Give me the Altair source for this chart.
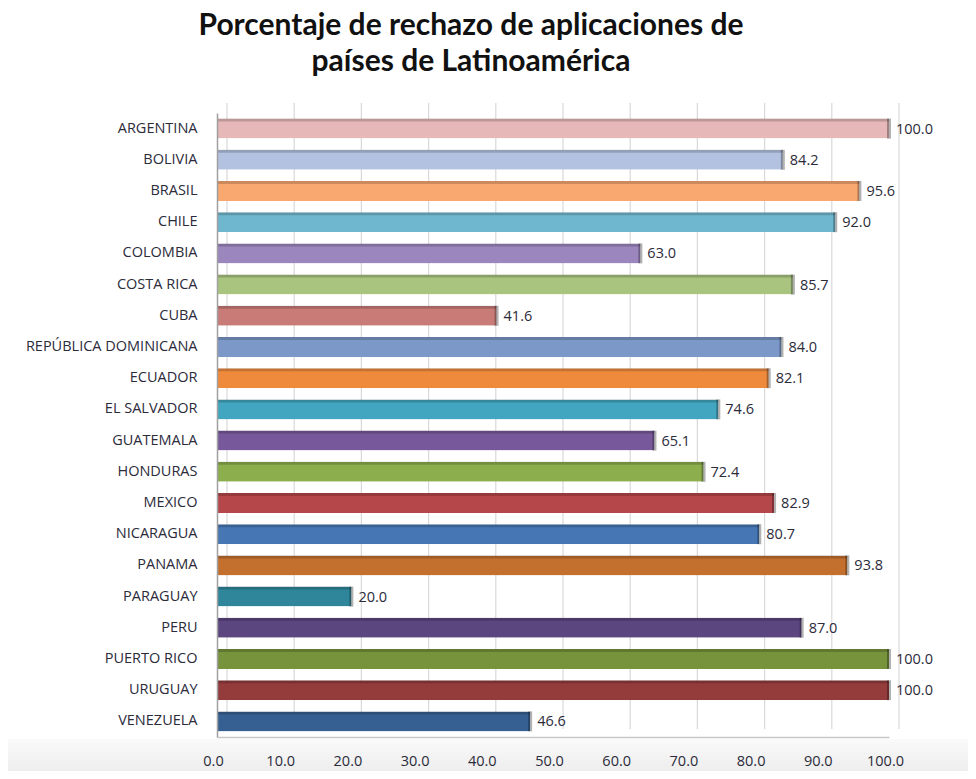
import altair as alt
import pandas as pd

countries = ["ARGENTINA", "BOLIVIA", "BRASIL", "CHILE", "COLOMBIA", "COSTA RICA", "CUBA",
             "REPÚBLICA DOMINICANA", "ECUADOR", "EL SALVADOR", "GUATEMALA", "HONDURAS",
             "MEXICO", "NICARAGUA", "PANAMA", "PARAGUAY", "PERU", "PUERTO RICO",
             "URUGUAY", "VENEZUELA"]
values = [100.0, 84.2, 95.6, 92.0, 63.0, 85.7, 41.6, 84.0, 82.1, 74.6, 65.1, 72.4,
          82.9, 80.7, 93.8, 20.0, 87.0, 100.0, 100.0, 46.6]
colors = ["#e6b9b8", "#b3c2e0", "#f9a870", "#6fb7cf", "#9b86bd", "#a9c47f", "#c97b77",
          "#7b98c9", "#ef8a3c", "#42a6c0", "#77589a", "#8cae4c", "#b5474a", "#4677b4",
          "#c3702f", "#2f8599", "#5c4680", "#77933c", "#943b3b", "#366092"]
x_ticks = [0, 10, 20, 30, 40, 50, 60, 70, 80, 90, 100]

df = pd.DataFrame({"pais": countries, "valor": values, "color": colors})
grid_df = pd.DataFrame({"t": x_ticks})

FONT = "Open Sans"
TXT = "#2b2b3a"
W, H = 672, 624

y_enc = alt.Y("pais:N", sort=countries,
              scale=alt.Scale(paddingInner=0.36, paddingOuter=0.18),
              axis=alt.Axis(title=None, labelFont=FONT, labelFontSize=14.5, labelColor=TXT,
                            labelPadding=20, ticks=False, domain=True, domainColor="#a0a0a0",
                            domainWidth=1.5, grid=False, zindex=1))
x_enc = alt.X("valor:Q", scale=alt.Scale(domain=[0, 100], nice=False),
              axis=alt.Axis(title=None, values=x_ticks, format=".1f", labelFont=FONT,
                            labelFontSize=14.5, labelColor=TXT, labelPadding=17, ticks=False,
                            labelFlush=False, labelOffset=-4, zindex=1,
                            domain=True, domainColor="#c8c8c8", domainWidth=1.5, grid=False))

band_fill = alt.Gradient(gradient="linear",
                         stops=[alt.GradientStop(color="#fafafa", offset=0),
                                alt.GradientStop(color="#ebebeb", offset=1)],
                         x1=0, x2=0, y1=0, y2=1)
bg_band = alt.Chart(grid_df).mark_rect(color=band_fill, clip=False).encode(
    x=alt.value(-209), x2=alt.value(W + 79), y=alt.value(H + 2), y2=alt.value(H + 40)
)
grid = alt.Chart(grid_df).mark_rule(color="#d9d9d9", strokeWidth=1.2, xOffset=10).encode(
    x=alt.X("t:Q", scale=alt.Scale(domain=[0, 100], nice=False)),
    y=alt.value(-10), y2=alt.value(H - 8)
)

base = alt.Chart(df)
bars = base.mark_bar(cornerRadius=1).encode(
    y=y_enc, x=x_enc, color=alt.Color("color:N", scale=None)
)
top_strip = base.mark_bar(color="black", opacity=0.18, size=3, yOffset=-8.5).encode(
    y=alt.Y("pais:N", sort=countries), x=alt.X("valor:Q")
)
cap = base.mark_tick(color="black", opacity=0.3, thickness=4, size=20).encode(
    y=alt.Y("pais:N", sort=countries), x=alt.X("valor:Q")
)
labels = base.mark_text(align="left", baseline="middle", dx=7, dy=1, font=FONT,
                        fontSize=14.5, color=TXT).encode(
    y=alt.Y("pais:N", sort=countries), x=alt.X("valor:Q"),
    text=alt.Text("valor:Q", format=".1f")
)

chart = alt.layer(bg_band, grid, bars, top_strip, cap, labels).properties(
    width=W, height=H,
    autosize=alt.AutoSizeParams(type="none"),
    padding={"left": 209, "top": 105, "right": 79, "bottom": 34},
    title=alt.TitleParams(["Porcentaje de rechazo de aplicaciones de",
                           "países de Latinoamérica"],
                          font="Lato", fontSize=30, fontWeight="bold", color="#111111",
                          anchor="middle", dx=-82, offset=25, lineHeight=36),
    background="white",
).configure_view(stroke=None)

chart.save("out.html", embed_options={"renderer": "svg", "actions": False})
